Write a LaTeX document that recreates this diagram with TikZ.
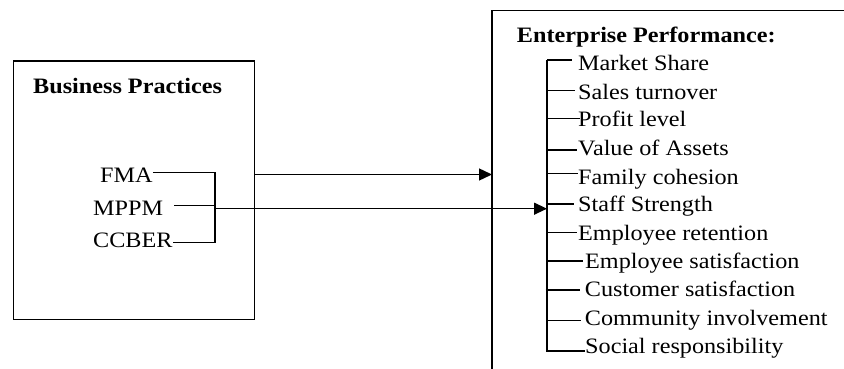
\documentclass[tikz,border=0pt]{standalone}
\usepackage{fontspec}
\setmainfont[FakeStretch=1.1]{Liberation Serif}
\usetikzlibrary{arrows.meta}
\begin{document}
\begin{tikzpicture}[x=1pt,y=-1pt,
  lbl/.style={anchor=base west,inner sep=0pt,font=\fontsize{22}{26}\selectfont},
  ttl/.style={anchor=base west,inner sep=0pt,font=\fontsize{22}{26}\selectfont\bfseries},
  ln/.style={line width=1.35pt},
  arr/.style={ln,-{Triangle[length=13pt,width=12pt]}}]
\useasboundingbox (0,0) rectangle (844,369);

% left box
\node[draw,ln,minimum width=241.5pt,minimum height=258.5pt,inner sep=0pt,anchor=north west] (bp) at (12.5,60.5) {};
\node[ttl] (bpt) at (33,93.3) {Business Practices};
\node[lbl] (fma) at (100,182.7) {FMA};
\node[lbl] (mppm) at (93,215.7) {MPPM};
\node[lbl] (ccber) at (93,247.3) {CCBER};
\coordinate (brt) at (215,172.7);
\coordinate (brm) at (215,205.7);
\coordinate (brb) at (215,242.7);
\draw[ln] (fma.east |- brt) -- (brt) -- (brb) -- (ccber.east |- brb);
\draw[ln] (174,205.7) -- (brm);

% right box (cropped)
\coordinate (rtl) at (492,10.5);
\draw[ln] (492,369) -- (rtl) -- (844,10.5);
\node[ttl] (ept) at (516.7,42.7) {Enterprise Performance:};

% bracket
\coordinate (bartop) at (547,60);
\coordinate (barbot) at (547,351);
\draw[ln] (bartop) -- (barbot) -- (585,351);

\foreach \t/\tx/\b/\ty/\xa/\xb [count=\i] in {
  Market Share/578/70.7/60/547/571.7,
  Sales turnover/578/99.3/90.7/547/575,
  Profit level/578/126/118.3/547/580,
  Value of Assets/578/155/150/547/576.7,
  Family cohesion/578/184/173.3/547/578,
  Staff Strength/578/211.7/204/547/574,
  Employee retention/578/240/232.3/547/577,
  Employee satisfaction/585/268.3/261/547/583,
  Customer satisfaction/584.7/296.7/290/545.7/580,
  Community involvement/584.7/325.7/320.7/547/580.7}{
  \node[lbl] (e\i) at (\tx,\b) {\t};
  \draw[ln] (\xa,\ty) -- (\xb,\ty);
}
\node[lbl] (e11) at (585,353.3) {Social responsibility};

% arrows
\draw[arr] (bp.east |- 0,174.5) -- (rtl |- 0,174.5);
\draw[arr] (215,208.7) -- (bartop |- 0,208.7);
\end{tikzpicture}
\end{document}
